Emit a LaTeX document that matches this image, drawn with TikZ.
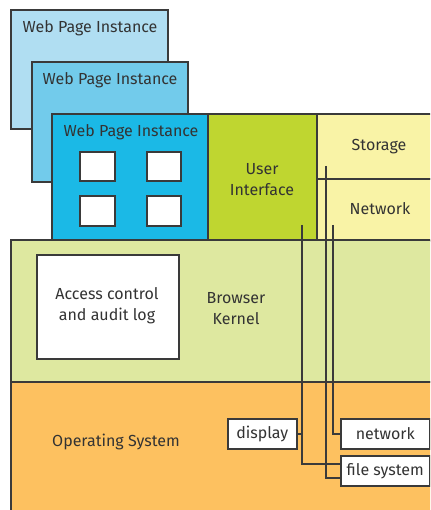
\documentclass[tikz,border=0pt]{standalone}
\usepackage{fontspec}
\setmainfont{Fira Sans}
\begin{document}
\begin{tikzpicture}[x=1pt,y=-1pt,
  box/.style={draw=linec,line width=1.6pt,rectangle,inner sep=0pt,anchor=north west},
  lbl/.style={text=textc,font=\fontsize{16}{21}\selectfont,inner sep=0pt,align=center},
  tlbl/.style={lbl,yshift=-2pt},
  wbox/.style={draw=linec,line width=1.6pt,fill=white,rectangle,inner sep=0pt},
  conn/.style={draw=linec,line width=1.6pt}]
\definecolor{linec}{HTML}{3A3A3A}
\definecolor{textc}{HTML}{333333}
\definecolor{wp1}{HTML}{B0DEF2}
\definecolor{wp2}{HTML}{72CBEB}
\definecolor{wp3}{HTML}{1BB9E6}
\definecolor{uic}{HTML}{BFD630}
\definecolor{stc}{HTML}{F9F3A6}
\definecolor{knc}{HTML}{DEE8A0}
\definecolor{osc}{HTML}{FDC160}
\useasboundingbox (0,0) rectangle (430,510);
\clip (0,0) rectangle (430,510);
% web page instances
\node[box,fill=wp1,minimum width=157pt,minimum height=119pt] (wp1) at (10,9) {};
\node[tlbl] (t1) at (90,26) {Web Page Instance};
\node[box,fill=wp2,minimum width=156pt,minimum height=120pt] (wp2) at (31,61) {};
\node[tlbl] (t2) at (110,78) {Web Page Instance};
\node[box,fill=wp3,minimum width=156pt,minimum height=126pt] (wp3) at (51,113) {};
\node[tlbl] (t3) at (131,130) {Web Page Instance};
\node[wbox,minimum width=35pt,minimum height=29pt,anchor=north west] (w1) at (79,151) {};
\node[wbox,minimum width=34pt,minimum height=29pt,anchor=north west] (w2) at (146,151) {};
\node[wbox,minimum width=35pt,minimum height=30pt,anchor=north west] (w3) at (79,195) {};
\node[wbox,minimum width=34pt,minimum height=30pt,anchor=north west] (w4) at (146,195) {};
% UI and storage/network
\node[box,fill=uic,minimum width=109pt,minimum height=127pt] (ui) at (207,113) {};
\node[tlbl] (tui) at (262,178) {User\\Interface};
\node[box,fill=stc,minimum width=120pt,minimum height=65pt] (st) at (316,113) {};
\node[tlbl] (tst) at (379,145) {Storage};
\node[box,fill=stc,minimum width=120pt,minimum height=62pt] (nw) at (316,178) {};
\node[tlbl] (tnw) at (380,207) {Network};
% kernel
\node[box,fill=knc,minimum width=430pt,minimum height=142pt] (kn) at (10,239) {};
\node[tlbl] (tkn) at (236,307) {Browser\\Kernel};
\node[wbox,minimum width=142pt,minimum height=104pt,anchor=north west] (ac) at (36,254) {};
\node[tlbl] (tac) at (107,304) {Access control\\and audit log};
% OS
\node[box,fill=osc,minimum width=430pt,minimum height=140pt] (os) at (10,381) {};
\node[tlbl] (tos) at (116,440) {Operating System};
\node[wbox,lbl,minimum width=69pt,minimum height=30pt,anchor=north west] (disp) at (227,418) {display};
\node[wbox,lbl,minimum width=89pt,minimum height=30pt,anchor=north west] (net) at (340,418) {network};
\node[wbox,lbl,minimum width=89pt,minimum height=30pt,anchor=north west] (fs) at (340,455) {file system};
% connectors
\coordinate (ca) at (302,225);
\coordinate (cb) at (326,166);
\coordinate (cc) at (333,225);
\draw[conn] (ca) |- ([yshift=7pt]fs.west);
\draw[conn] (cb) |- ([yshift=-7pt]fs.west);
\draw[conn] (cc) |- (net.west);
\draw[conn] (disp.east) -- (disp.east -| ca);
\end{tikzpicture}
\end{document}
